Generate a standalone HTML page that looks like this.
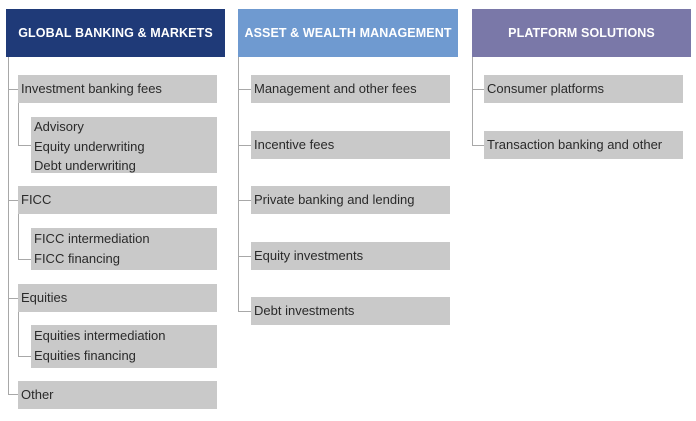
<!DOCTYPE html>
<html><head><meta charset="utf-8"><style>
body{margin:0;width:696px;height:421px;background:#fff;position:relative;overflow:hidden;font-family:"Liberation Sans",sans-serif}
.h{position:absolute;top:9px;height:48px;color:#fff;font-weight:bold;font-size:12.5px;display:flex;align-items:center;justify-content:center;letter-spacing:0.1px}
.b{position:absolute;background:#c9c9c9;color:#2a2a2a;font-size:13px;line-height:19.5px;padding-left:3px;box-sizing:border-box}
.s{display:flex;align-items:center;height:28px}
.v{position:absolute;width:1px;background:#a8a8a8}
.t{position:absolute;height:1px;background:#a8a8a8}
</style></head><body>
<div class="h" style="left:6px;width:219px;background:#1f3a78">GLOBAL BANKING &amp; MARKETS</div>
<div class="h" style="left:238px;width:220px;background:#6f9ad0">ASSET &amp; WEALTH MANAGEMENT</div>
<div class="h" style="left:472px;width:219px;background:#7a78a8">PLATFORM SOLUTIONS</div>

<div class="v" style="left:8px;top:57px;height:337px"></div>
<div class="t" style="left:8px;top:89px;width:10px"></div>
<div class="t" style="left:8px;top:200px;width:10px"></div>
<div class="t" style="left:8px;top:298px;width:10px"></div>
<div class="t" style="left:8px;top:394px;width:10px"></div>
<div class="v" style="left:18px;top:103px;height:42px"></div>
<div class="t" style="left:18px;top:145px;width:13px"></div>
<div class="v" style="left:18px;top:214px;height:45px"></div>
<div class="t" style="left:18px;top:259px;width:13px"></div>
<div class="v" style="left:18px;top:312px;height:44px"></div>
<div class="t" style="left:18px;top:356px;width:13px"></div>

<div class="b s" style="left:18px;top:75px;width:199px">Investment banking fees</div>
<div class="b" style="left:31px;top:117px;width:186px;height:56px;padding-top:0px">Advisory<br>Equity underwriting<br>Debt underwriting</div>
<div class="b s" style="left:18px;top:186px;width:199px">FICC</div>
<div class="b" style="left:31px;top:228px;width:186px;height:42px;padding-top:1px">FICC intermediation<br>FICC financing</div>
<div class="b s" style="left:18px;top:284px;width:199px">Equities</div>
<div class="b" style="left:31px;top:325px;width:186px;height:43px;padding-top:1px">Equities intermediation<br>Equities financing</div>
<div class="b s" style="left:18px;top:381px;width:199px">Other</div>

<div class="v" style="left:238px;top:57px;height:254px"></div>
<div class="t" style="left:238px;top:89px;width:13px"></div>
<div class="t" style="left:238px;top:145px;width:13px"></div>
<div class="t" style="left:238px;top:200px;width:13px"></div>
<div class="t" style="left:238px;top:256px;width:13px"></div>
<div class="t" style="left:238px;top:311px;width:13px"></div>
<div class="b s" style="left:251px;top:75px;width:199px">Management and other fees</div>
<div class="b s" style="left:251px;top:131px;width:199px">Incentive fees</div>
<div class="b s" style="left:251px;top:186px;width:199px">Private banking and lending</div>
<div class="b s" style="left:251px;top:242px;width:199px">Equity investments</div>
<div class="b s" style="left:251px;top:297px;width:199px">Debt investments</div>

<div class="v" style="left:472px;top:57px;height:88px"></div>
<div class="t" style="left:472px;top:89px;width:12px"></div>
<div class="t" style="left:472px;top:145px;width:12px"></div>
<div class="b s" style="left:484px;top:75px;width:199px">Consumer platforms</div>
<div class="b s" style="left:484px;top:131px;width:199px">Transaction banking and other</div>
</body></html>
